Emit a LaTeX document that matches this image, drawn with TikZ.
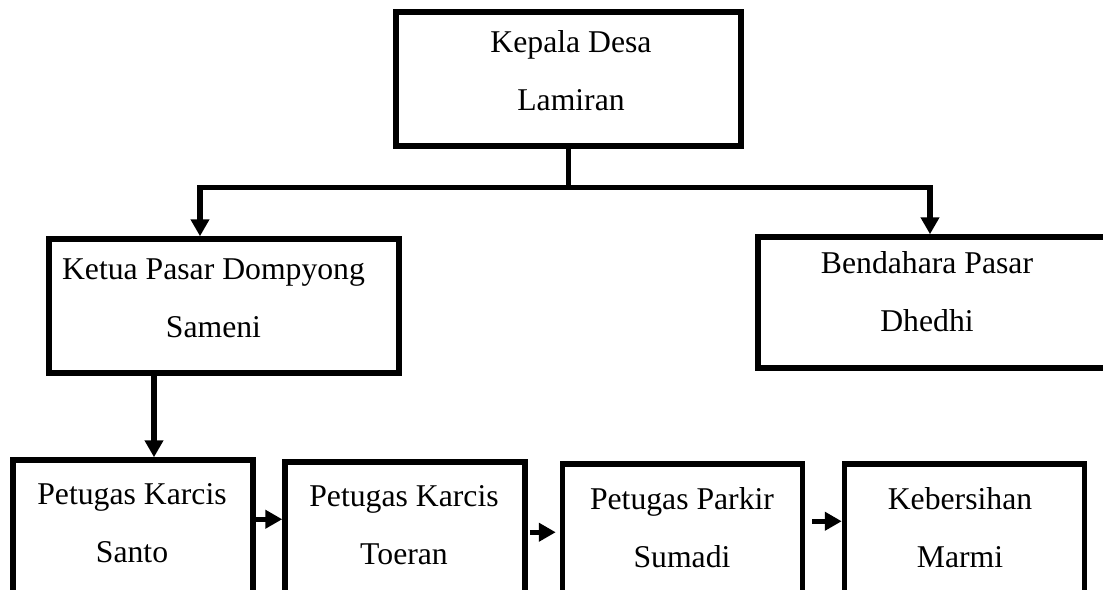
\documentclass[tikz,border=0pt]{standalone}
\usepackage{fontspec}
\setmainfont{Liberation Serif}
\usetikzlibrary{calc,arrows.meta}

\begin{document}
\begin{tikzpicture}
  [x=0.5pt, y=-0.5pt,
   box/.style={draw, line width=2.75pt, rectangle, inner sep=0pt},
   boxtext/.style={anchor=base, align=center, inner sep=0pt,
     font=\fontsize{15.85pt}{29pt}\selectfont},
   link/.style={line width=2.6pt},
   arrow/.style={line width=2.6pt, -{Triangle[length=8.5pt,width=9pt]}}]

  \clip (0,0) rectangle (1103,589);

  \node
  [box, minimum width=172.5pt, minimum height=67pt]
  (kades) at (568.5,79) {};

  \node
  [box, minimum width=175pt, minimum height=67pt]
  (ketua) at (224,306) {};

  \node
  [box, minimum width=190pt, minimum height=65.5pt]
  (bendahara) at (948,302.5) {};

  \node
  [box, minimum width=120pt, minimum height=90pt]
  (karcisA) at (133,550) {};

  \node
  [box, minimum width=120pt, minimum height=90pt]
  (karcisB) at (405,552) {};

  \node
  [box, minimum width=120pt, minimum height=90pt]
  (parkir) at (682.5,554) {};

  \node
  [box, minimum width=120pt, minimum height=90pt]
  (kebersihan) at (964.5,554) {};

  % texts (anchored at the baseline of the second line)
  \node [boxtext] (kadesT) at (571,110) {Kepala Desa\\Lamiran};
  \node [boxtext] (ketuaT) at (213.5,337) {Ketua Pasar Dompyong\\Sameni};
  \node [boxtext] (bendaharaT) at (927,331) {Bendahara Pasar\\Dhedhi};
  \node [boxtext] (karcisAT) at (132,562) {Petugas Karcis\\Santo};
  \node [boxtext] (karcisBT) at (404,564) {Petugas Karcis\\Toeran};
  \node [boxtext] (parkirT) at (682,567) {Petugas Parkir\\Sumadi};
  \node [boxtext] (kebersihanT) at (960,567) {Kebersihan\\Marmi};

  % connectors
  \draw
  [link]
  (kades.south) -- ++(0,39) coordinate (split);

  \draw
  [arrow]
  (split) -| ($(ketua.north)+(-24,0)$);

  \draw
  [arrow]
  (split) -| ($(bendahara.north)+(-18,0)$);

  \draw
  [arrow]
  ($(ketua.south)+(-70,0)$) coordinate (down)
  -- (down |- karcisA.north);

  \draw
  [arrow]
  ($(karcisA.north east)+(0,62)$) coordinate (a1)
  -- (a1 -| karcisB.west);

  \draw
  [arrow]
  ($(karcisB.north east)+(2,73)$) coordinate (a2)
  -- ($(a2 -| parkir.west)+(-4,0)$);

  \draw
  [arrow]
  ($(parkir.north east)+(7,60)$) coordinate (a3)
  -- (a3 -| kebersihan.west);
\end{tikzpicture}
\end{document}
